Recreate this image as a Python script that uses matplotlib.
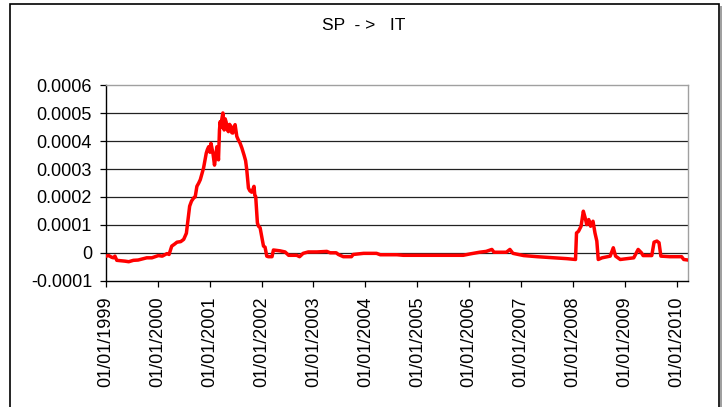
import matplotlib
matplotlib.use("Agg")
import matplotlib.pyplot as plt
from matplotlib.patches import Rectangle
import pandas as pd

plt.rcParams['font.family'] = ['Liberation Sans', 'DejaVu Sans']

title = "SP  - >   IT"

dates = [
    "1999-01-01", "1999-01-20", "1999-02-10", "1999-02-23", "1999-03-05", "1999-03-18",
    "1999-05-15", "1999-06-10", "1999-07-13", "1999-08-15", "1999-10-15", "1999-11-20",
    "2000-01-05", "2000-02-01", "2000-03-05", "2000-03-20", "2000-04-08", "2000-04-25",
    "2000-05-15", "2000-06-10", "2000-07-01", "2000-07-20", "2000-08-01", "2000-08-12",
    "2000-08-25", "2000-09-10", "2000-09-20", "2000-10-02", "2000-10-15", "2000-10-26",
    "2000-11-05", "2000-11-18", "2000-12-07", "2000-12-15", "2000-12-24", "2001-01-02",
    "2001-01-09", "2001-01-16", "2001-01-23", "2001-02-03", "2001-02-10", "2001-02-20",
    "2001-02-26", "2001-03-03", "2001-03-10", "2001-03-15", "2001-03-20", "2001-03-27",
    "2001-04-03", "2001-04-08", "2001-04-12", "2001-04-19", "2001-04-26", "2001-05-05",
    "2001-05-12", "2001-05-20", "2001-05-30", "2001-06-05", "2001-06-12", "2001-06-20",
    "2001-06-28", "2001-07-10", "2001-07-20", "2001-08-02", "2001-08-15", "2001-08-30",
    "2001-09-10", "2001-09-18", "2001-09-30", "2001-10-10", "2001-10-23", "2001-11-01",
    "2001-11-08", "2001-11-14", "2001-11-20", "2001-12-02", "2001-12-10", "2001-12-21",
    "2001-12-28", "2002-01-08", "2002-01-14", "2002-01-25", "2002-02-06", "2002-02-17",
    "2002-03-15", "2002-03-25", "2002-05-10", "2002-06-15", "2002-07-10", "2002-09-05",
    "2002-09-25", "2002-10-20", "2002-11-25", "2003-01-25", "2003-04-05", "2003-04-28",
    "2003-06-10", "2003-06-25", "2003-07-30", "2003-09-25", "2003-10-08", "2003-12-20",
    "2004-03-20", "2004-04-15", "2004-08-10", "2004-09-25", "2005-04-01", "2005-11-20",
    "2006-01-08", "2006-03-15", "2006-05-01", "2006-06-10", "2006-06-25", "2006-09-20",
    "2006-10-15", "2006-11-05", "2006-12-15", "2007-01-20", "2007-04-25", "2007-08-20",
    "2007-11-20", "2008-01-20", "2008-01-27", "2008-02-10", "2008-02-28", "2008-03-15",
    "2008-03-28", "2008-04-08", "2008-04-22", "2008-05-05", "2008-05-22", "2008-06-05",
    "2008-06-18", "2008-06-28", "2008-07-25", "2008-09-20", "2008-10-12", "2008-10-28",
    "2008-11-30", "2009-03-05", "2009-04-05", "2009-04-28", "2009-05-10", "2009-07-10",
    "2009-07-26", "2009-08-15", "2009-08-30", "2009-09-12", "2009-11-15", "2010-02-05",
    "2010-02-20", "2010-03-22",
]

values = [
    -0.000012, -0.000010, -0.000016, -0.000018, -0.000012, -0.000027,
    -0.000030, -0.000032, -0.000027, -0.000026, -0.000018, -0.000018,
    -0.000010, -0.000012, -0.000003, -0.000006, 0.000024, 0.000030,
    0.000038, 0.000040, 0.000048, 0.000070, 0.000119, 0.000167,
    0.000185, 0.000197, 0.000200, 0.000238, 0.000250, 0.000262,
    0.000280, 0.000304, 0.000357, 0.000370, 0.000380, 0.000360,
    0.000392, 0.000375, 0.000357, 0.000314, 0.000340, 0.000380,
    0.000360, 0.000333, 0.000440, 0.000470, 0.000450, 0.000480,
    0.000501, 0.000470, 0.000440, 0.000480, 0.000468, 0.000440,
    0.000434, 0.000460, 0.000452, 0.000430, 0.000429, 0.000450,
    0.000459, 0.000417, 0.000405, 0.000393, 0.000375, 0.000350,
    0.000330, 0.000298, 0.000232, 0.000222, 0.000217, 0.000228,
    0.000238, 0.000205, 0.000202, 0.000107, 0.000095, 0.000090,
    0.000070, 0.000040, 0.000024, 0.000020, -0.000012, -0.000014,
    -0.000014, 0.000010, 0.000007, 0.000003, -0.000009, -0.000009,
    -0.000014, -0.000002, 0.000003, 0.000003, 0.000005, 0.000000,
    0.000000, -0.000006, -0.000014, -0.000014, -0.000006, -0.000002,
    -0.000002, -0.000007, -0.000007, -0.000009, -0.000009, -0.000009,
    -0.000004, 0.000002, 0.000005, 0.000012, 0.000002, 0.000002,
    0.000012, -0.000002, -0.000006, -0.000010, -0.000014, -0.000018,
    -0.000021, -0.000024, 0.000071, 0.000077, 0.000095, 0.000149,
    0.000125, 0.000101, 0.000119, 0.000095, 0.000113, 0.000071,
    0.000042, -0.000024, -0.000018, -0.000012, 0.000018, -0.000012,
    -0.000024, -0.000018, 0.000012, 0.000000, -0.000010, -0.000010,
    0.000038, 0.000042, 0.000036, -0.000012, -0.000014, -0.000014,
    -0.000024, -0.000026,
]

y_ticks = [-0.0001, 0, 0.0001, 0.0002, 0.0003, 0.0004, 0.0005, 0.0006]
y_tick_labels = ["-0.0001", "0", "0.0001", "0.0002", "0.0003", "0.0004", "0.0005", "0.0006"]
x_tick_years = list(range(1999, 2011))
x_tick_labels = ["01/01/%d" % y for y in x_tick_years]

fig = plt.figure(figsize=(7.27, 4.07), dpi=100)
ax = fig.add_axes([106 / 727, 1 - 280.7 / 407, (688 - 106) / 727, (280.7 - 85.3) / 407])

x = pd.to_datetime(dates)
ax.plot(x, values, color="#ff0000", lw=2.5, solid_joinstyle="round", zorder=3)

ax.set_ylim(-0.0001, 0.0006)
ax.set_xlim(pd.Timestamp("1999-01-01"), pd.Timestamp("2010-03-22"))

ax.set_yticks(y_ticks)
ax.set_yticklabels(y_tick_labels)
xt = [pd.Timestamp("%d-01-01" % y) for y in x_tick_years]
ax.set_xticks(xt)
ax.set_xticklabels(x_tick_labels, rotation=90)

for v in y_ticks[1:-1]:
    ax.axhline(v, color="#222222", lw=0.9, zorder=1)

ax.tick_params(axis="y", direction="out", length=4.5, width=0.9, pad=5.5, labelsize=13, colors="black")
ax.tick_params(axis="x", direction="out", length=4.5, width=0.9, pad=7, labelsize=13, colors="black")

ax.spines["left"].set_color("black")
ax.spines["bottom"].set_color("black")
ax.spines["top"].set_color("#a0a0a0")
ax.spines["right"].set_color("#a0a0a0")
for s in ax.spines.values():
    s.set_linewidth(1.0)

fig.text(364 / 727, 1 - 25 / 407, title, ha="center", va="center", fontsize=12.5)

rect = Rectangle((10 / 727, -0.05), (719 - 10) / 727, 1.05 - 4 / 407,
                 transform=fig.transFigure, fill=False, edgecolor="black", lw=1.2, clip_on=False)
fig.patches.append(rect)
shadow = Rectangle((720 / 727, -0.05), 1.5 / 727, 1.05 - 6 / 407,
                   transform=fig.transFigure, facecolor="#a0a0a0", edgecolor="none", clip_on=False)
fig.patches.append(shadow)

fig.savefig("out.png", dpi=100)
